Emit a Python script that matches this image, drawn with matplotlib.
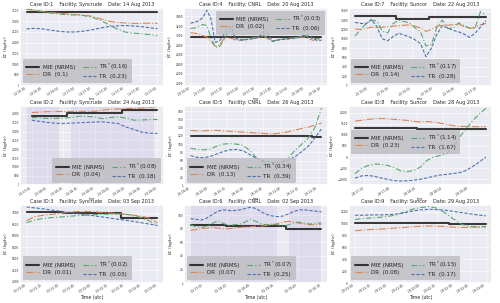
import matplotlib
matplotlib.use('Agg')
import matplotlib.pyplot as plt
import matplotlib.dates as mdates
import pandas as pd
import seaborn as sns

sns.set_theme(style='darkgrid')
plt.rcParams['font.family'] = ['DejaVu Sans']

# ---- data (kg/hr) ----
# case 1 - Syncrude 14 Aug 2013
c1_mie = [3420] * 17
c1_dr = [3550, 3500, 3450, 3400, 3370, 3340, 3310, 3280, 3230, 3120, 3000, 2950, 2920, 2900, 2900, 2910, 2900]
c1_trs = [3580, 3520, 3440, 3380, 3330, 3300, 3290, 3260, 3180, 3050, 2850, 2650, 2500, 2450, 2420, 2380, 2330]
c1_tr = [2640, 2670, 2640, 2580, 2530, 2500, 2500, 2540, 2600, 2680, 2750, 2780, 2800, 2780, 2750, 2700, 2650]

# case 4 - CNRL 20 Aug 2013
c4_mie = [2970] * 33
c4_dr = [3060, 3050, 3030, 3000, 2970, 2880, 2780, 2800, 2920, 2960, 2940, 2910, 2900, 2910, 2920, 2940, 2950,
         2960, 2980, 2930, 2890, 2900, 2920, 2930, 2940, 2950, 2960, 2970, 2960, 2930, 2900, 2920, 2930]
c4_trs = [3150, 3160, 3190, 3230, 3210, 2950, 2760, 2760, 2880, 3050, 3100, 2950, 2920, 2920, 2930, 2950, 2960,
          2980, 3000, 2940, 2880, 2900, 2920, 2930, 2940, 2950, 2960, 2980, 3000, 2960, 2930, 2940, 2930]
c4_tr = [3260, 3280, 3310, 3380, 3530, 3350, 2860, 2880, 3000, 3150, 3170, 2950, 2900, 2910, 2920, 2930, 2950,
         3000, 3090, 3020, 2880, 2900, 2920, 2920, 2930, 2940, 2950, 2980, 3020, 3010, 2930, 2900, 2900]

# case 7 - Suncor 22 Aug 2013
c7_mie = [1490] * 8 + [1430] * 6 + [1470] * 11
c7_dr = [1210, 1200, 1220, 1250, 1240, 1250, 1260, 1270, 1280, 1290, 1300, 1270, 1230, 1160, 1200, 1270, 1290,
         1290, 1300, 1320, 1260, 1220, 1240, 1300, 1330]
c7_trs = [1060, 1200, 1320, 1400, 1380, 1160, 1130, 1330, 1390, 1370, 1340, 1230, 1150, 850, 880, 1250, 1400,
          1220, 1230, 1340, 1280, 1230, 1230, 1580, 1510]
c7_tr = [1350, 1330, 1320, 1410, 1260, 1000, 960, 1050, 1120, 1080, 1040, 980, 900, 620, 800, 1100, 1280,
         1230, 1180, 1150, 1100, 1030, 1120, 1250, 1390]

# case 2 - Syncrude 24 Aug 2013
c2_mie = [3880] * 5 + [4040] * 7 + [4230] * 5
c2_dr = [4080, 4110, 4130, 4140, 4140, 4140, 4150, 4150, 4150, 4220, 4270, 4280, 4310, 4320, 4330, 4370, 4430]
c2_trs = [3800, 3770, 3750, 3750, 3760, 3800, 3870, 3860, 3840, 3730, 3800, 3840, 3760, 3650, 3660, 3680, 3690]
c2_tr = [3650, 3580, 3520, 3480, 3460, 3480, 3500, 3520, 3540, 3550, 3500, 3460, 3260, 3120, 2970, 2910, 2900]

# case 5 - CNRL 26 Aug 2013
c5_mie = [120] * 19 + [117] * 2
c5_dr = [133, 132, 132, 133, 133, 132, 131, 130, 129, 128, 127, 126, 125, 125, 127, 130, 134, 138, 141, 146, 151]
c5_trs = [90, 87, 86, 88, 95, 100, 101, 100, 97, 85, 68, 57, 52, 50, 57, 68, 85, 100, 115, 140, 187]
c5_tr = [72, 68, 67, 70, 76, 82, 86, 87, 84, 75, 66, 60, 57, 55, 57, 62, 70, 82, 95, 115, 137]

# case 8 - Suncor 28 Aug 2013
c8_mie = [1300] * 10 + [1250] * 11
c8_dr = [1620, 1660, 1700, 1730, 1740, 1720, 1700, 1680, 1650, 1610, 1580, 1600, 1580, 1530, 1470, 1420, 1390,
         1380, 1370, 1370, 1380]
c8_trs = [-750, -500, -380, -310, -330, -380, -480, -630, -660, -600, -450, -150, 0, 70, 150, 450, 900, 1300,
          1650, 1950, 2200]
c8_tr = [-950, -850, -830, -870, -950, -1010, -1060, -1080, -1070, -1040, -1000, -940, -870, -810, -780, -740,
         -700, -600, -420, -220, 0]

# case 3 - Syncrude 03 Sep 2013
c3_mie = [7030] * 5 + [6960] * 7 + [6750] * 5
c3_dr = [6650, 6820, 6880, 6920, 6960, 7000, 7040, 7050, 7040, 7010, 6990, 6960, 6930, 6890, 6840, 6760, 6550]
c3_trs = [6560, 6680, 6740, 6780, 6800, 6830, 6860, 6880, 6900, 6920, 6930, 6940, 6930, 6880, 6780, 6640, 6430]
c3_tr = [7240, 7200, 7160, 7110, 7060, 7010, 6960, 6920, 6870, 6820, 6770, 6720, 6670, 6620, 6560, 6500, 6440]

# case 6 - CNRL 02 Sep 2013
c6_mie = [86] * 7 + [84] * 11 + [80] * 7
c6_dr = [78, 79, 80, 81, 82, 81, 80, 80, 81, 82, 83, 83, 84, 84, 85, 86, 88, 90, 91, 90, 88, 87, 86, 86, 87]
c6_trs = [86, 83, 82, 84, 88, 92, 88, 85, 86, 87, 90, 94, 91, 87, 86, 87, 86, 84, 86, 89, 90, 88, 87, 88, 89]
c6_tr = [95, 94, 93, 96, 101, 106, 108, 107, 107, 108, 110, 112, 110, 105, 101, 99, 98, 99, 102, 106, 108, 108,
         107, 106, 105]

# case 9 - Suncor 29 Aug 2013
c9_mie = [1005] * 12 + [990] * 5
c9_dr = [880, 890, 900, 905, 915, 925, 935, 945, 955, 958, 955, 950, 940, 935, 935, 940, 940]
c9_trs = [1070, 1085, 1095, 1105, 1120, 1145, 1190, 1240, 1270, 1285, 1260, 1180, 1080, 990, 950, 945, 950]
c9_tr = [1140, 1140, 1145, 1145, 1150, 1160, 1180, 1210, 1230, 1240, 1235, 1225, 1205, 1185, 1165, 1145, 1130]

# nrms scores in legend
c1_score = ['0.1', '0.16', '0.23']
c4_score = ['0.02', '0.03', '0.06']
c7_score = ['0.14', '0.17', '0.28']
c2_score = ['0.04', '0.08', '0.18']
c5_score = ['0.13', '0.34', '0.39']
c8_score = ['0.23', '1.14', '1.67']
c3_score = ['0.01', '0.02', '0.03']
c6_score = ['0.07', '0.07', '0.25']
c9_score = ['0.08', '0.15', '0.17']

ORANGE = '#dd8452'
GREEN = '#55a868'
BLUE = '#4c72b0'
SHADE = '#8878c8'

fig = plt.figure(figsize=(5, 3.03), dpi=100)

lefts = [0.040, 0.368, 0.697]
bottoms = [0.717, 0.388, 0.066]
heights = [0.257, 0.262, 0.257]
W = 0.288


def panel(r, c, case, fac, date, t0, t1, ticks, mie, dr, trs, tr, score, ylim, yticks, loc,
          spans=None, bbox=None):
    ax = fig.add_axes([lefts[c], bottoms[r], W, heights[r]])
    ax.plot(pd.date_range(t0, t1, periods=len(mie)), mie, color='k', lw=1.5, alpha=0.85,
            drawstyle='steps-mid', label='MIE (NRMS)')
    ax.plot(pd.date_range(t0, t1, periods=len(dr)), dr, color=ORANGE, lw=0.8, ls='-.',
            label='DR  (%s)' % score[0])
    ax.plot(pd.date_range(t0, t1, periods=len(trs)), trs, color=GREEN, lw=0.8, ls=(0, (5, 2, 1, 2)),
            label=r'TR$^*$(%s)' % score[1])
    ax.plot(pd.date_range(t0, t1, periods=len(tr)), tr, color=BLUE, lw=0.8, ls=(0, (3, 1.5)),
            label='TR  (%s)' % score[2])
    if spans:
        for a, b in spans:
            ax.axvspan(pd.Timestamp(a), pd.Timestamp(b), color=SHADE, alpha=0.13, lw=0)
    ax.set_ylim(*ylim)
    ax.set_yticks(yticks)
    ax.set_xticks(ticks)
    ax.xaxis.set_major_formatter(mdates.DateFormatter('%d %H:%M'))
    ax.tick_params(axis='both', labelsize=2.1, pad=0.6, length=0)
    for lab in ax.get_xticklabels():
        lab.set_rotation(32)
        lab.set_ha('right')
    ax.grid(lw=0.4)
    ax.set_title('Case ID:%d    Facility: %s    Date: %s' % (case, fac, date), fontsize=3.5, pad=1.2)
    ax.set_ylabel(r'$\hat{E}_C$ (kg/hr)', fontsize=3.2, labelpad=0.8)
    if r < 2:
        ax.set_xlabel('time', fontsize=2.0, labelpad=0)
    else:
        ax.set_xlabel('Time (utc)', fontsize=3.3, labelpad=0.5)
    ax.legend(loc=loc, ncol=2, fontsize=4.1, frameon=True, facecolor='#bebec2', framealpha=0.85,
              edgecolor='none', handlelength=2.3, handletextpad=0.6, columnspacing=1.3, borderpad=0.6,
              labelspacing=0.35, bbox_to_anchor=bbox)
    return ax


panel(0, 0, 1, 'Syncrude', '14 Aug 2013', '2013-08-14 16:30', '2013-08-14 17:50',
      pd.date_range('2013-08-14 16:30', periods=9, freq='10min'),
      c1_mie, c1_dr, c1_trs, c1_tr, c1_score, (0, 3620), range(0, 3501, 500), 'lower left')
panel(0, 1, 4, 'CNRL', '20 Aug 2013', '2013-08-20 16:50', '2013-08-20 18:10',
      pd.date_range('2013-08-20 16:50', periods=9, freq='10min'),
      c4_mie, c4_dr, c4_trs, c4_tr, c4_score, (1950, 3580), range(2000, 3401, 200), 'upper right')
panel(0, 2, 7, 'Suncor', '22 Aug 2013', '2013-08-22 14:50', '2013-08-22 17:20',
      pd.date_range('2013-08-22 15:05', periods=6, freq='25min'),
      c7_mie, c7_dr, c7_trs, c7_tr, c7_score, (0, 1660), range(0, 1601, 200), 'lower left')

panel(1, 0, 2, 'Syncrude', '24 Aug 2013', '2013-08-24 17:50', '2013-08-24 19:50',
      pd.date_range('2013-08-24 17:50', periods=9, freq='15min'),
      c2_mie, c2_dr, c2_trs, c2_tr, c2_score, (-50, 4450), range(0, 4001, 500), 'lower right',
      spans=[('2013-08-24 17:45', '2013-08-24 18:16'), ('2013-08-24 18:27', '2013-08-24 19:47')])
panel(1, 1, 5, 'CNRL', '26 Aug 2013', '2013-08-26 19:45', '2013-08-26 21:33',
      pd.date_range('2013-08-26 19:45', periods=8, freq='15min'),
      c5_mie, c5_dr, c5_trs, c5_tr, c5_score, (0, 192), range(0, 181, 20), 'lower left')
panel(1, 2, 8, 'Suncor', '28 Aug 2013', '2013-08-28 17:00', '2013-08-28 19:50',
      pd.date_range('2013-08-28 17:12', periods=5, freq='34min'),
      c8_mie, c8_dr, c8_trs, c8_tr, c8_score, (-1280, 2300), range(-1000, 2001, 500), 'center left',
      bbox=(0.0, 0.55))

panel(2, 0, 3, 'Syncrude', '03 Sep 2013', '2013-09-03 21:00', '2013-09-03 23:00',
      pd.date_range('2013-09-03 21:00', periods=9, freq='15min'),
      c3_mie, c3_dr, c3_trs, c3_tr, c3_score, (3950, 7320), range(4000, 7001, 500), 'lower left')
panel(2, 1, 6, 'CNRL', '02 Sep 2013', '2013-09-02 17:40', '2013-09-02 20:10',
      pd.date_range('2013-09-02 17:55', periods=6, freq='27min'),
      c6_mie, c6_dr, c6_trs, c6_tr, c6_score, (0, 115), range(0, 101, 20), 'lower left',
      spans=[('2013-09-02 17:40', '2013-09-02 19:19'), ('2013-09-02 19:33', '2013-09-02 20:10')])
panel(2, 2, 9, 'Suncor', '29 Aug 2013', '2013-08-29 21:00', '2013-08-29 23:00',
      pd.date_range('2013-08-29 21:00', periods=9, freq='15min'),
      c9_mie, c9_dr, c9_trs, c9_tr, c9_score, (0, 1310), range(0, 1201, 200), 'lower left')

fig.savefig('out.png', dpi=100)
